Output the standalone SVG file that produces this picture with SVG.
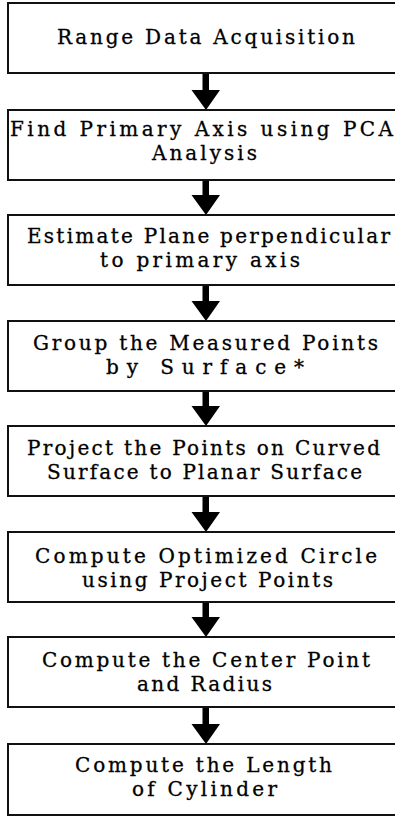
<svg xmlns="http://www.w3.org/2000/svg" width="395" height="818" viewBox="0 0 395 818">
<style>
.box{fill:#fff;stroke:#111;stroke-width:2}
.t{font-family:"DejaVu Serif","Liberation Serif",serif;font-size:20px;fill:#000;stroke:#000;stroke-width:0.3}
.arr{fill:#000}
</style>
<rect width="395" height="818" fill="#fff"/>
<g id="connectors">
<path class="arr" d="M202.5,73 H209 V90 H220 L206,110 L191.5,90 H202.5 Z"/>
<path class="arr" d="M202.5,180 H209 V195 H220 L206,215 L191.5,195 H202.5 Z"/>
<path class="arr" d="M202.5,285 H209 V301 H220 L206,321 L191.5,301 H202.5 Z"/>
<path class="arr" d="M202.5,391 H209 V406 H220 L206,426 L191.5,406 H202.5 Z"/>
<path class="arr" d="M202.5,496 H209 V512 H220 L206,532 L191.5,512 H202.5 Z"/>
<path class="arr" d="M202.5,602 H209 V617 H220 L206,637 L191.5,617 H202.5 Z"/>
<path class="arr" d="M202.5,707 H209 V724 H220 L206,744 L191.5,724 H202.5 Z"/>
</g>
<g id="n1">
<rect class="box" x="8" y="3" width="400" height="70"/>
<text class="t" x="57" y="44" textLength="298" lengthAdjust="spacing">Range Data Acquisition</text>
</g>
<g id="n2">
<rect class="box" x="8" y="110" width="400" height="70"/>
<text class="t" x="10" y="136" textLength="383" lengthAdjust="spacing">Find Primary Axis using PCA</text>
<text class="t" x="152" y="160" textLength="105" lengthAdjust="spacing">Analysis</text>
</g>
<g id="n3">
<rect class="box" x="8" y="215" width="400" height="70"/>
<text class="t" x="27" y="243" textLength="363" lengthAdjust="spacing">Estimate Plane perpendicular</text>
<text class="t" x="100" y="267" textLength="200" lengthAdjust="spacing">to primary axis</text>
</g>
<g id="n4">
<rect class="box" x="8" y="321" width="400" height="70"/>
<text class="t" x="33" y="350" textLength="345" lengthAdjust="spacing">Group the Measured Points</text>
<text class="t" x="106" y="374" textLength="198" lengthAdjust="spacing">by Surface*</text>
</g>
<g id="n5">
<rect class="box" x="8" y="426" width="400" height="70"/>
<text class="t" x="27" y="455" textLength="353" lengthAdjust="spacing">Project the Points on Curved</text>
<text class="t" x="47" y="479" textLength="315" lengthAdjust="spacing">Surface to Planar Surface</text>
</g>
<g id="n6">
<rect class="box" x="8" y="532" width="400" height="70"/>
<text class="t" x="35" y="563" textLength="342" lengthAdjust="spacing">Compute Optimized Circle</text>
<text class="t" x="82" y="587" textLength="251" lengthAdjust="spacing">using Project Points</text>
</g>
<g id="n7">
<rect class="box" x="8" y="637" width="400" height="70"/>
<text class="t" x="42" y="667" textLength="328" lengthAdjust="spacing">Compute the Center Point</text>
<text class="t" x="137" y="691" textLength="135" lengthAdjust="spacing">and Radius</text>
</g>
<g id="n8">
<rect class="box" x="8" y="744" width="400" height="71"/>
<text class="t" x="75" y="772" textLength="257" lengthAdjust="spacing">Compute the Length</text>
<text class="t" x="132" y="796" textLength="145" lengthAdjust="spacing">of Cylinder</text>
</g>
</svg>
